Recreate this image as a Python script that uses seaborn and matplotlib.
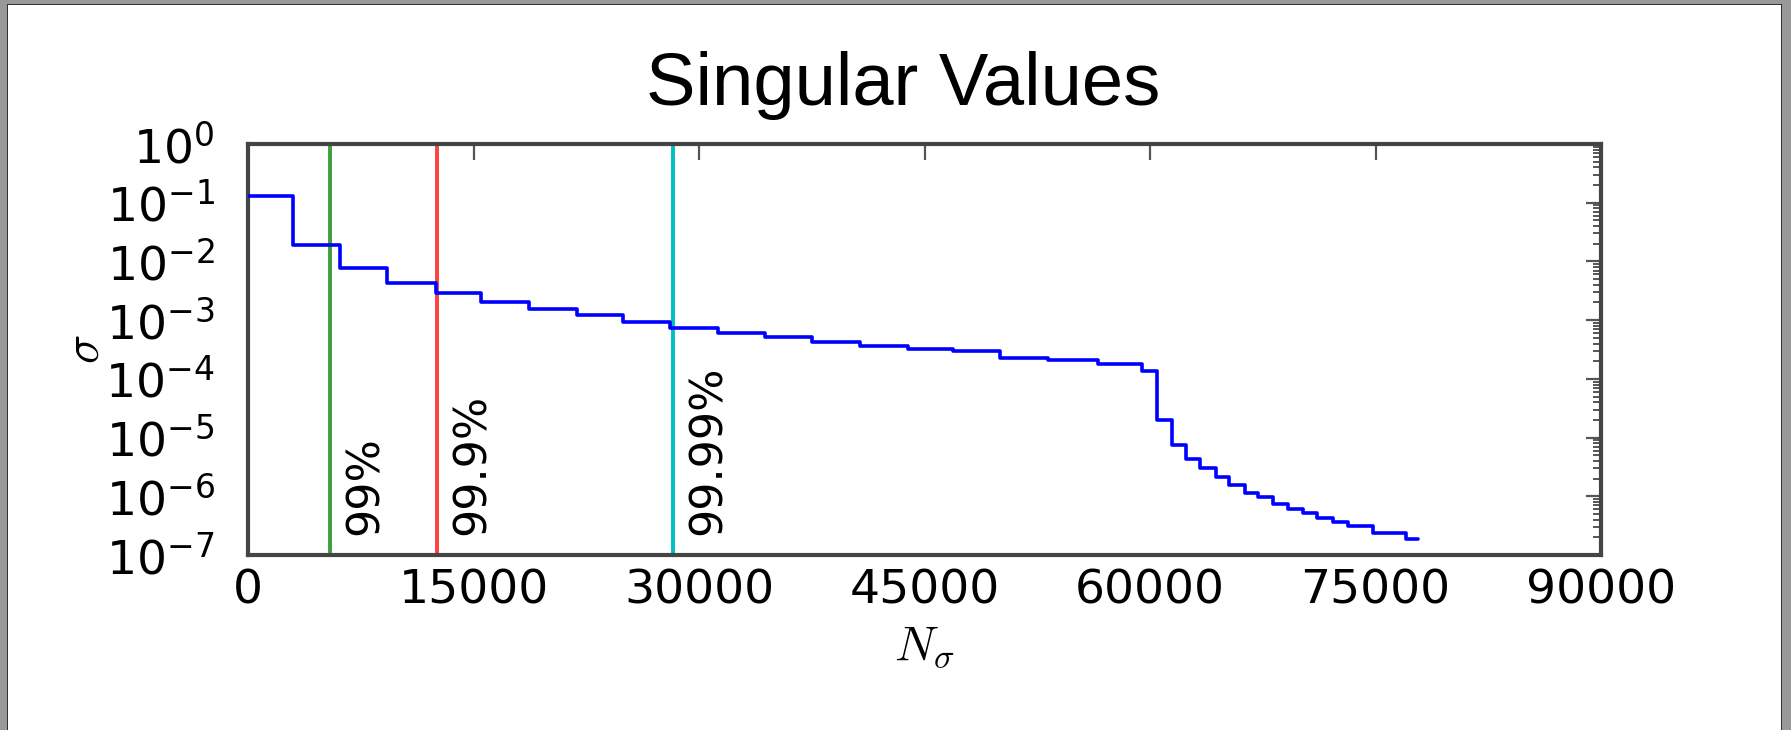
import numpy as np
import pandas as pd
import matplotlib
matplotlib.use('Agg')
import matplotlib.pyplot as plt
import seaborn as sns
from matplotlib.patches import Rectangle
from matplotlib.ticker import LogLocator, FixedLocator, NullFormatter

# ---- data ----
step_start = [0, 2970, 6120, 9220, 12500, 15480, 18670, 21860, 24970, 28070,
              31290, 34390, 37500, 40710, 43920, 46920, 50020, 53240, 56560,
              59500, 60450, 61440, 62420, 63330, 64420, 65280, 66320, 67210,
              68170, 69210, 70200, 71090, 72200, 73190, 74860, 77030]
sigma_values = [0.13, 0.019, 0.0076, 0.00435, 0.00295, 0.00206, 0.00153,
                0.00122, 0.00094, 0.000744, 0.000596, 5.09e-4, 4.25e-4,
                3.63e-4, 3.19e-4, 3.0e-4, 2.27e-4, 2.09e-4, 1.8e-4, 1.34e-4,
                2.0e-5, 7.6e-6, 4.3e-6, 3.0e-6, 2.1e-6, 1.58e-6, 1.16e-6,
                9.8e-7, 7.3e-7, 6.1e-7, 5.1e-7, 4.3e-7, 3.68e-7, 3.15e-7,
                2.34e-7, 1.85e-7]
curve_end = 77850

threshold_names = ['99%', '99.9%', '99.99%']
threshold_pos = [5475, 12600, 28290]
threshold_colors = ['#3f9f3f', '#ff4040', '#00bfbf']

x_ticks = [0, 15000, 30000, 45000, 60000, 75000, 90000]

# ---- style ----
sns.set_theme(style='white')
plt.rcParams['font.family'] = ['DejaVu Sans']
plt.rcParams['text.color'] = 'black'
plt.rcParams['axes.labelcolor'] = 'black'

W, H = 1791, 730
fig = plt.figure(figsize=(W / 100, H / 100), dpi=100)
fig.patch.set_facecolor('white')
ax = fig.add_axes([248 / W, 1 - 555 / H, 1353 / W, 411 / H])

df = pd.DataFrame({'N': step_start + [curve_end],
                   'sigma': sigma_values + [sigma_values[-1]]})
sns.lineplot(data=df, x='N', y='sigma', ax=ax, drawstyle='steps-post',
             color='#0000ff', lw=2.6, estimator=None, sort=False, zorder=3)

ax.set_yscale('log')
ax.set_xlim(0, 90000)
ax.set_ylim(1e-7, 1)

for name, pos, col in zip(threshold_names, threshold_pos, threshold_colors):
    ax.axvline(pos, color=col, lw=2.8, zorder=2)
    ax.text(pos + 900, 2.2e-7, name, rotation=90, ha='left', va='bottom',
            fontsize=32, color='black')

ax.xaxis.set_major_locator(FixedLocator(x_ticks))
ax.set_xticklabels([str(t) for t in x_ticks])
ax.yaxis.set_major_locator(LogLocator(base=10, numticks=12))
ax.yaxis.set_minor_locator(LogLocator(base=10, subs=np.arange(2, 10), numticks=12))
ax.yaxis.set_minor_formatter(NullFormatter())

ax.tick_params(axis='both', which='both', direction='in', top=True, right=True,
               color='#555555', labelcolor='black')
ax.tick_params(axis='x', which='major', length=11.5, width=1.6, pad=10, labelsize=34)
ax.tick_params(axis='y', which='major', length=11, width=1.6, pad=24, labelsize=34)
ax.tick_params(axis='y', which='minor', length=6, width=1.4)

for sp in ax.spines.values():
    sp.set_visible(True)
    sp.set_color('#444444')
    sp.set_linewidth(3)

ax.set_xlabel(r'$N_\sigma$', fontsize=35, math_fontfamily='cm', color='black')
ax.set_ylabel(r'$\sigma$', fontsize=35, math_fontfamily='cm', color='black')
ax.xaxis.set_label_coords(0.5, -0.163)
ax.yaxis.set_label_coords(-0.103, 0.5)
ax.grid(False)

fig.text(903.5 / W, 1 - 105 / H, 'Singular Values', fontsize=53.5,
         family='Liberation Sans', ha='center', va='baseline', color='black')

# screenshot frame
frame = [((0, 0), 7 / W, 1, '#999999'), ((7 / W, 0), 1.2 / W, 1 - 4 / H, '#333333'),
         ((0, 1 - 4 / H), 1, 4 / H, '#999999'), ((7 / W, 1 - 5.2 / H), 1, 1.2 / H, '#333333'),
         ((1 - 9 / W, 0), 9 / W, 1, '#999999'), ((1 - 10.2 / W, 0), 1.2 / W, 1 - 4 / H, '#333333')]
for xy, w, h, c in frame:
    fig.add_artist(Rectangle(xy, w, h, transform=fig.transFigure, facecolor=c,
                             edgecolor='none', zorder=20))

fig.savefig('out.png', dpi=100)
